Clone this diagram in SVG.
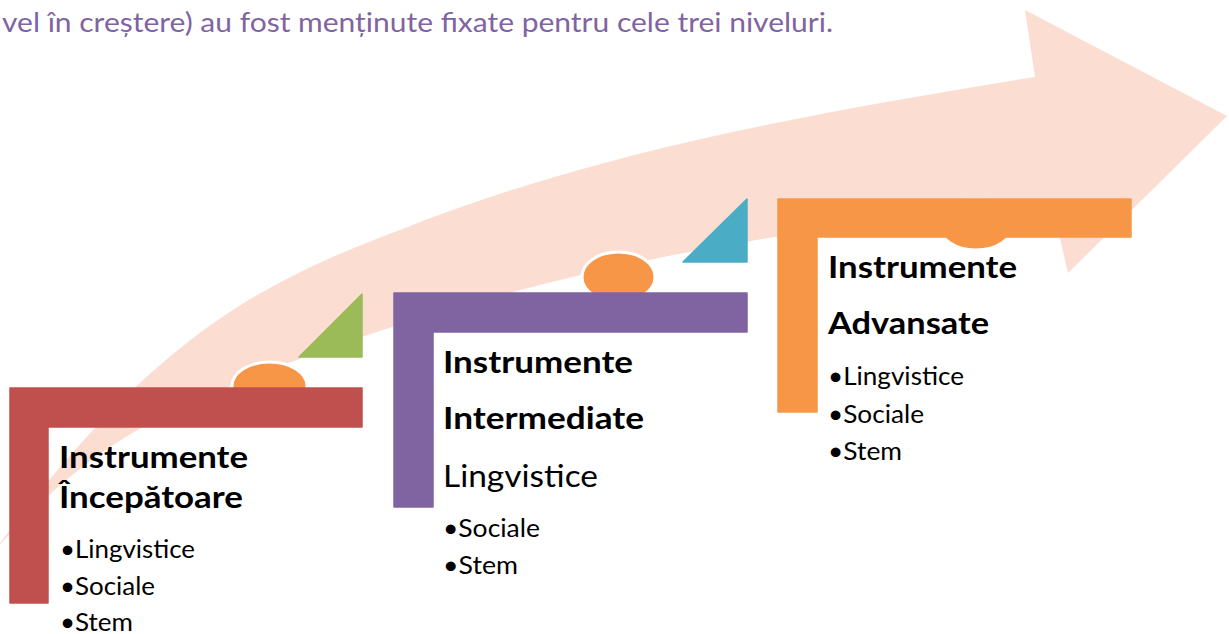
<svg xmlns="http://www.w3.org/2000/svg" width="1229" height="634" viewBox="0 0 1229 634">
  <style>
    .hdr { font-family: Lato, "Open Sans", "Liberation Sans", sans-serif; font-size: 26px; fill: #8064A2; }
    .ttl { font-family: Lato, "Open Sans", "Liberation Sans", sans-serif; font-size: 30px; font-weight: bold; fill: #000; }
    .big { font-family: Lato, "Open Sans", "Liberation Sans", sans-serif; font-size: 30px; fill: #000; }
    .itm { font-family: Lato, "Open Sans", "Liberation Sans", sans-serif; font-size: 25px; fill: #000; }
    .knob { fill: #F79646; stroke: #FFFFFF; stroke-width: 3; }
  </style>
  <rect width="1229" height="634" fill="#FFFFFF"/>

  <text class="hdr" x="2" y="32" textLength="831" lengthAdjust="spacingAndGlyphs">vel în creștere) au fost menținute fixate pentru cele trei niveluri.</text>

  <g id="connectors">
    <path id="progress-arrow" fill="#FBDDD1"
      d="M -5,550 C 50,490 100,445 180,408 C 380,318 600,263 800,233 L 1053,207 L 1068,273 L 1227,116 L 1025,10 L 1035,77 C 815,113 600,150 400,230 C 260,282 150,340 -5,550 Z"/>
  </g>

  <g id="accents">
    <ellipse class="knob" cx="269.5" cy="386" rx="37.5" ry="24"/>
    <ellipse class="knob" cx="618.5" cy="277" rx="36.5" ry="25"/>
    <ellipse class="knob" cx="976" cy="225" rx="37" ry="25"/>
    <path d="M299,357 L362,294 L362,357 Z" fill="#9BBB59" stroke="#9BBB59" stroke-width="1.5" stroke-linejoin="round"/>
    <path d="M683,262 L747,199 L747,262 Z" fill="#4BACC6" stroke="#4BACC6" stroke-width="1.5" stroke-linejoin="round"/>
  </g>

  <g id="step-beginner">
    <path d="M10,388 H362 V427 H48 V603 H10 Z" fill="#C0504D" stroke="#C0504D" stroke-width="1.5" stroke-linejoin="round"/>
    <text class="ttl" x="59" y="468" textLength="189" lengthAdjust="spacingAndGlyphs">Instrumente</text>
    <text class="ttl" x="59" y="508" textLength="184" lengthAdjust="spacingAndGlyphs">Începătoare</text>
    <text class="itm" x="60" y="558" textLength="135" lengthAdjust="spacingAndGlyphs">•Lingvistice</text>
    <text class="itm" x="60" y="595" textLength="95" lengthAdjust="spacingAndGlyphs">•Sociale</text>
    <text class="itm" x="60" y="631" textLength="73" lengthAdjust="spacingAndGlyphs">•Stem</text>
  </g>

  <g id="step-intermediate">
    <path d="M394,293 H747 V332 H433 V507 H394 Z" fill="#8064A2" stroke="#8064A2" stroke-width="1.5" stroke-linejoin="round"/>
    <text class="ttl" x="443" y="373" textLength="190" lengthAdjust="spacingAndGlyphs">Instrumente</text>
    <text class="ttl" x="443" y="429" textLength="201" lengthAdjust="spacingAndGlyphs">Intermediate</text>
    <text class="big" x="443" y="487" textLength="155" lengthAdjust="spacingAndGlyphs">Lingvistice</text>
    <text class="itm" x="443" y="537" textLength="97" lengthAdjust="spacingAndGlyphs">•Sociale</text>
    <text class="itm" x="443" y="574" textLength="75" lengthAdjust="spacingAndGlyphs">•Stem</text>
  </g>

  <g id="step-advanced">
    <path d="M778,199 H1131 V237 H817 V412 H778 Z" fill="#F79646" stroke="#F79646" stroke-width="1.5" stroke-linejoin="round"/>
    <text class="ttl" x="828" y="278" textLength="189" lengthAdjust="spacingAndGlyphs">Instrumente</text>
    <text class="ttl" x="828" y="334" textLength="161" lengthAdjust="spacingAndGlyphs">Advansate</text>
    <text class="itm" x="828" y="385" textLength="136" lengthAdjust="spacingAndGlyphs">•Lingvistice</text>
    <text class="itm" x="828" y="423" textLength="96" lengthAdjust="spacingAndGlyphs">•Sociale</text>
    <text class="itm" x="828" y="460" textLength="74" lengthAdjust="spacingAndGlyphs">•Stem</text>
  </g>
</svg>
